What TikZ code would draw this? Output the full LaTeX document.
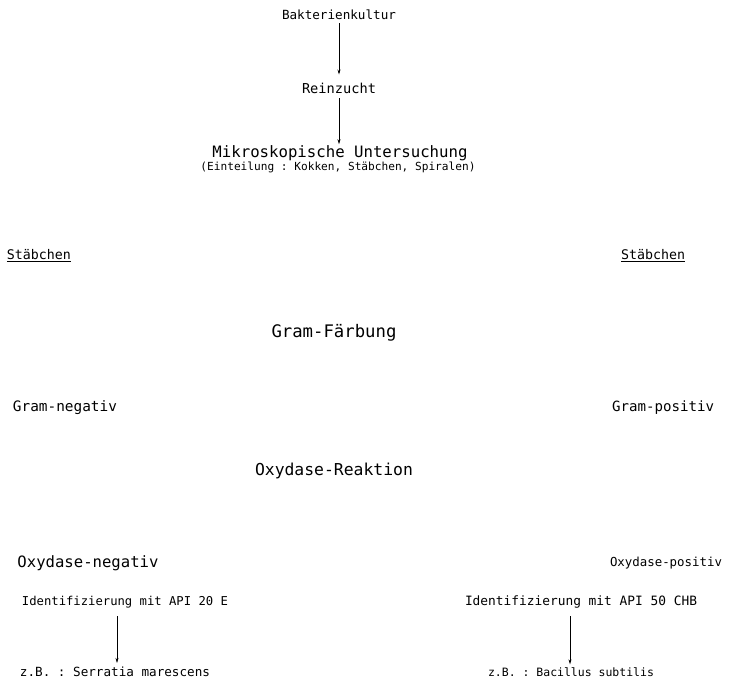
\documentclass[tikz,border=0pt]{standalone}
\usepackage{fontspec}
\setmonofont{DejaVu Sans Mono}
\usetikzlibrary{arrows.meta}
\newcommand\fitw[2]{\resizebox{#1pt}{!}{\ttfamily #2}}
\tikzset{
  lbl/.style={inner sep=0pt, anchor=center},
  arr/.style={-{Stealth[length=5pt,width=3pt]}, line width=0.6pt}
}
\begin{document}
\begin{tikzpicture}[x=1pt,y=-1pt]
\useasboundingbox (0,0) rectangle (736,688);
\node[lbl] (bak) at (339,15) {\fitw{114}{Bakterienkultur}};
\node[lbl] (rein) at (339,88) {\fitw{74}{Reinzucht}};
\node[lbl] (mik) at (340,153) {\fitw{255}{Mikroskopische Untersuchung}};
\node[lbl] (ein) at (338,167) {\fitw{275}{(Einteilung : Kokken, Stäbchen, Spiralen)}};
\node[lbl] (stl) at (39,256) {\fitw{64}{\underline{Stäbchen}}};
\node[lbl] (str) at (653,256) {\fitw{64}{\underline{Stäbchen}}};
\node[lbl] (gf) at (334,333) {\fitw{125}{Gram-Färbung}};
\node[lbl] (gn) at (65,408) {\fitw{104}{Gram-negativ}};
\node[lbl] (gp) at (663,408) {\fitw{102}{Gram-positiv}};
\node[lbl] (oxr) at (334,471) {\fitw{158}{Oxydase-Reaktion}};
\node[lbl] (oxn) at (88,563) {\fitw{141}{Oxydase-negativ}};
\node[lbl] (oxp) at (666,563) {\fitw{112}{Oxydase-positiv}};
\node[lbl] (id1) at (125,602) {\fitw{206}{Identifizierung mit API 20 E}};
\node[lbl] (id2) at (581,602) {\fitw{232}{Identifizierung mit API 50 CHB}};
\node[lbl] (zb1) at (115,672) {\fitw{190}{z.B. : Serratia marescens}};
\node[lbl] (zb2) at (571,672) {\fitw{166}{z.B. : Bacillus subtilis}};
\draw[arr, shorten <=3pt, shorten >=8pt] (bak.south) -- (bak.south |- rein.north);
\draw[arr, shorten <=5pt, shorten >=1pt] (rein.south) -- (rein.south |- mik.north);
\draw[arr, shorten <=8pt, shorten >=4pt] ([xshift=-8pt]id1.south) -- ([xshift=-8pt]id1.south |- zb1.north);
\draw[arr, shorten <=8pt, shorten >=3pt] ([xshift=-11pt]id2.south) -- ([xshift=-11pt]id2.south |- zb2.north);
\end{tikzpicture}
\end{document}
